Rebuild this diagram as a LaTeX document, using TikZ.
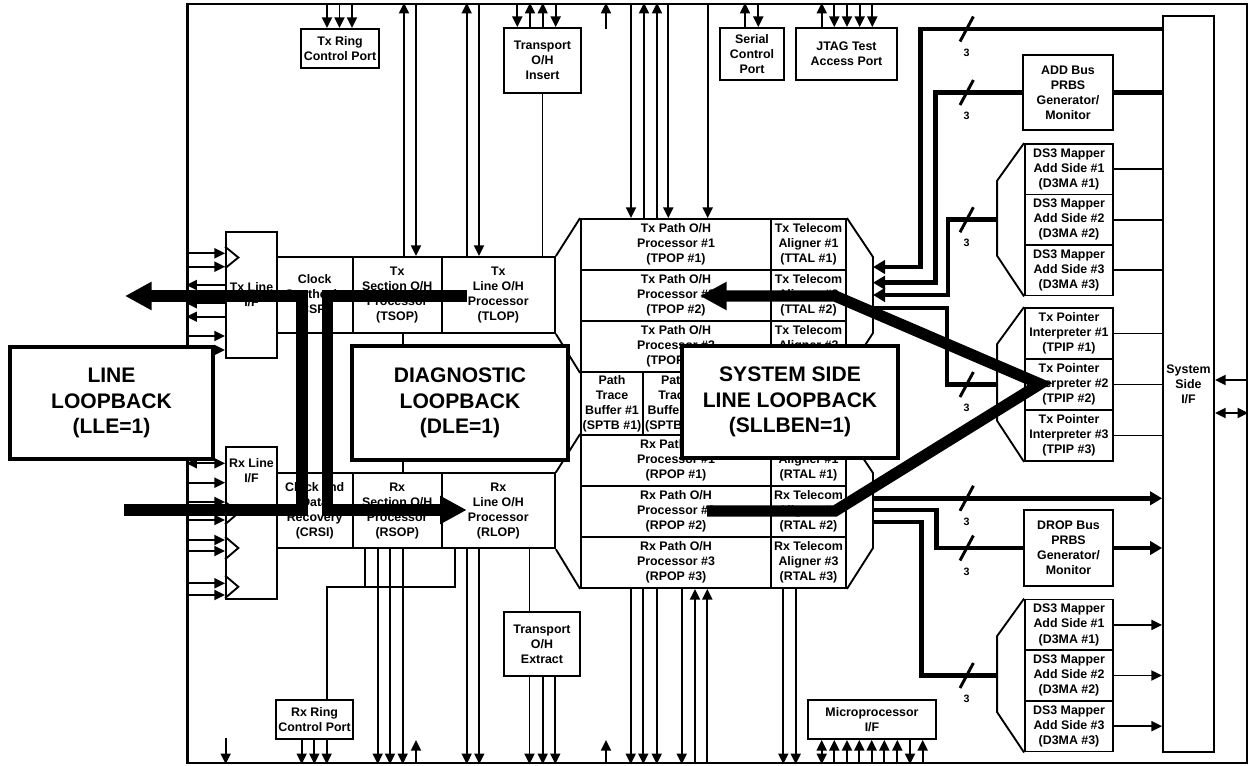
\documentclass[tikz,border=0pt]{standalone}
\usepackage{fontspec}
\setmainfont{Liberation Sans}
\usepackage{tikz}
\usetikzlibrary{positioning}
\usetikzlibrary{calc}
\usetikzlibrary{arrows.meta}

\tikzset{
    sz/.style 2 args={minimum width=#1*0.75pt, minimum height=#2*0.75pt},
    blk/.style={draw, line width=1.4pt, fill=white, align=center, inner sep=0pt,
        font=\fontsize{9.3}{11.3}\selectfont\bfseries},
    txt/.style={align=center, inner sep=0pt, font=\fontsize{9.3}{11.3}\selectfont\bfseries},
    lpbox/.style={draw, line width=3pt, fill=white, align=center, inner sep=0pt,
        font=\fontsize{15.8}{19}\selectfont\bfseries},
    ln/.style={line width=1.4pt},
    arr/.style={line width=1.4pt, -{Triangle[length=8pt,width=7.5pt]}},
    darr/.style={line width=1.4pt, {Triangle[length=8pt,width=7.5pt]}-{Triangle[length=8pt,width=7.5pt]}},
    bus/.style={line width=3.6pt},
    busarr/.style={line width=3.6pt, -{Triangle[length=9pt,width=10pt]}},
    lbarr/.style={line width=8.5pt, -{Triangle[length=20pt,width=20pt]}},
    slash/.style={line width=2.2pt},
    num/.style={inner sep=0pt, font=\fontsize{8}{9}\selectfont\bfseries}
}

\begin{document}
\begin{tikzpicture}[x=0.75pt, y=-0.75pt]
    \useasboundingbox (0,0) rectangle (1252,766);

    \node[draw, line width=1.8pt, inner sep=0pt, sz={1059.5}{759}] (frame) at (717.25,383.5) {};

    % ports on the top and bottom edge
    \node[blk, sz={78}{39}] (txring) at (340,48.5) {Tx Ring\\Control Port};
    \node[blk, sz={77}{65}] (tohins) at (542.5,60.5) {Transport\\O/H\\Insert};
    \node[blk, sz={64}{52}] (serial) at (752,54) {Serial\\Control\\Port};
    \node[blk, sz={101}{52}] (jtag) at (846.5,54) {JTAG Test\\Access Port};
    \node[blk, sz={77}{39}] (rxring) at (314.5,719.5) {Rx Ring\\Control Port};
    \node[blk, sz={76}{64}] (toext) at (542,644) {Transport\\O/H\\Extract};
    \node[blk, sz={128}{39}] (micro) at (872,719.5) {Microprocessor\\I/F};

    % line side
    \node[blk, sz={51}{126}] (txli) at (251.5,295) {Tx Line\\I/F};
    \node[blk, sz={51}{152}] (rxli) at (251.5,523) {};
    \node[txt, below=9pt of rxli.north] (rxlit) {Rx Line\\I/F};

    \node[blk, sz={76}{76}] (cspi) at (314.7,295) {Clock\\Synthesis\\(CSPI)};
    \node[blk, sz={89}{76}] (tsop) at (397.2,295) {Tx\\Section O/H\\Processor\\(TSOP)};
    \node[blk, sz={113.3}{76}] (tlop) at (498.3,295) {Tx\\Line O/H\\Processor\\(TLOP)};
    \node[blk, sz={76}{75}] (crsi) at (314.7,510.8) {Clock and\\Data\\Recovery\\(CRSI)};
    \node[blk, sz={89}{75}] (rsop) at (397.2,510.8) {Rx\\Section O/H\\Processor\\(RSOP)};
    \node[blk, sz={113.3}{75}] (rlop) at (498.3,510.8) {Rx\\Line O/H\\Processor\\(RLOP)};

    % path processors
    \foreach \i/\y in {1/244.5, 2/295.5, 3/346.5} {
        \node[blk, sz={190}{51}] (tpop\i) at (676,\y) {Tx Path O/H\\Processor \#\i\\(TPOP \#\i)};
        \node[blk, sz={75}{51}] (ttal\i) at (808.5,\y) {Tx Telecom\\Aligner \#\i\\(TTAL \#\i)};
    }
    \foreach \i/\y in {1/460.5, 2/511.5, 3/562.5} {
        \node[blk, sz={190}{51}] (rpop\i) at (676,\y) {Rx Path O/H\\Processor \#\i\\(RPOP \#\i)};
        \node[blk, sz={75}{51}] (rtal\i) at (808.5,\y) {Rx Telecom\\Aligner \#\i\\(RTAL \#\i)};
    }
    \node[blk, sz={62}{63}] (ptb1) at (612,403.5) {Path\\Trace\\Buffer \#1\\(SPTB \#1)};
    \node[blk, sz={63}{63}] (ptb2) at (674.5,403.5) {Path\\Trace\\Buffer \#2\\(SPTB \#2)};
    \node[blk, sz={65}{63}] (ptb3) at (738.5,403.5) {};
    \node[blk, sz={75}{63}] (ptb4) at (808.5,403.5) {};

    \coordinate (oRt) at (873,257);
    \coordinate (oRm1) at (873,333);
    \coordinate (oRm2) at (873,473);
    \coordinate (oRb) at (873,548);
    \draw[ln] (tpop1.north west) -- (tlop.north east) (tlop.south east) -- (tpop3.south west)
        (rpop1.north west) -- (rlop.north east) (rlop.south east) -- (rpop3.south west);
    \draw[ln] (ttal1.north east) -- (oRt) -- (oRm1) -- (ttal3.south east)
        (rtal1.north east) -- (oRm2) -- (oRb) -- (rtal3.south east);

    % system side
    \node[blk, sz={51}{736}] (sysif) at (1188.5,384) {System\\Side\\I/F};
    \node[blk, sz={90}{75}] (addprbs) at (1068,92.5) {ADD Bus\\PRBS\\Generator/\\Monitor};
    \node[blk, sz={89}{76}] (dropprbs) at (1068.5,548) {DROP Bus\\PRBS\\Generator/\\Monitor};
    \foreach \i/\y in {1/169.25, 2/219.75, 3/270.25}
        \node[blk, sz={88}{50.5}] (d3ma\i) at (1069,\y) {DS3 Mapper\\Add Side \#\i\\(D3MA \#\i)};
    \foreach \i/\y in {1/333.5, 2/384.5, 3/435.5}
        \node[blk, sz={88}{51}] (tpip\i) at (1069,\y) {Tx Pointer\\Interpreter \#\i\\(TPIP \#\i)};
    \foreach \i/\y in {1/624.9, 2/675.5, 3/726.2}
        \node[blk, sz={88}{50.7}] (d3mb\i) at (1069,\y) {DS3 Mapper\\Add Side \#\i\\(D3MA \#\i)};

    \draw[ln] (d3ma1.north west) -- ++(-27,37.7) -- ++(0,75) -- (d3ma3.south west);
    \draw[ln] (tpip1.north west) -- ++(-27,37) -- ++(0,76.7) -- (tpip3.south west);
    \draw[ln] (d3mb1.north west) -- ++(-27,37.5) -- ++(0,76) -- (d3mb3.south west);
    \coordinate (fanA) at ($(d3ma2.west)+(-27,0)$);
    \coordinate (fanB) at ($(tpip2.west)+(-27,0)$);
    \coordinate (fanC) at ($(d3mb2.west)+(-27,0)$);

    \foreach \i in {1,2,3} {
        \draw[ln] (d3ma\i.east) -- (sysif.west |- d3ma\i.east);
        \draw[ln] (tpip\i.east) -- (sysif.west |- tpip\i.east);
        \draw[arr] (d3mb\i.east) -- (sysif.west |- d3mb\i.east);
    }
    \draw[arr] (frame.east |- 0,380) -- (sysif.east |- 0,380);
    \draw[darr] (sysif.east |- 0,413) -- (frame.east |- 0,413);

    % buses
    \draw[busarr] (sysif.west |- 0,29) -- ++(-241.3,0) |- (oRt |- 0,267);
    \draw[busarr] (addprbs.west) -- ++(-86.3,0) |- (oRt |- 0,282.7);
    \draw[bus] (addprbs.east) -- (sysif.west |- addprbs.east);
    \draw[busarr] (fanA) -- ++(-49,0) |- (oRt |- 0,295);
    \draw[bus] (fanB) -- ++(-50,0) |- (oRm1 |- 0,308);
    \draw[busarr] (oRm2 |- 0,498.3) -- (sysif.west |- 0,498.3);
    \draw[bus] (oRm2 |- 0,510) -- ++(63.7,0) |- (dropprbs.west);
    \draw[busarr] (dropprbs.east) -- (sysif.west |- dropprbs.east);
    \draw[bus] (oRm2 |- 0,522) -- ++(48.7,0) |- (fanC);
    \foreach \y/\n in {29/a, 92.5/b, 219.75/c, 384.5/d, 498.3/e, 548/f, 675.5/g} {
        \draw[slash] (966.7,\y) ++(-6.7,12.5) -- ++(13.4,-25);
        \node[num] (three\n) at (966.7,{\y+23.5}) {3};
    }

    % top edge
    \foreach \x in {327,339.5,352}
        \draw[arr] (\x,0 |- frame.north) -- (\x,0 |- txring.north);
    \draw[arr] (404,0 |- tsop.north) -- (404,0 |- frame.north);
    \draw[arr] (416,0 |- frame.north) -- (416,0 |- tsop.north);
    \draw[arr] (466.7,0 |- tlop.north) -- (466.7,0 |- frame.north);
    \draw[arr] (479,0 |- frame.north) -- (479,0 |- tlop.north);
    \draw[ln] (tohins.south) -- (tohins.south |- tlop.north);
    \foreach \x in {517.3,555.7}
        \draw[arr] (\x,0 |- frame.north) -- (\x,0 |- tohins.north);
    \foreach \x in {530,542.7}
        \draw[arr] (\x,0 |- tohins.north) -- (\x,0 |- frame.north);
    \coordinate (stubT) at (606,29);
    \draw[arr] (stubT) -- (stubT |- frame.north);
    \foreach \x in {631,668.3,707.7}
        \draw[arr] (\x,0 |- frame.north) -- (\x,0 |- tpop1.north);
    \foreach \x in {644,657}
        \draw[arr] (\x,0 |- tpop1.north) -- (\x,0 |- frame.north);
    \draw[arr] (745,0 |- serial.north) -- (745,0 |- frame.north);
    \draw[arr] (758.3,0 |- frame.north) -- (758.3,0 |- serial.north);
    \draw[arr] (821.7,0 |- jtag.north) -- (821.7,0 |- frame.north);
    \foreach \x in {834.3,847,859.7,872.3}
        \draw[arr] (\x,0 |- frame.north) -- (\x,0 |- jtag.north);

    % bottom edge
    \coordinate (stubB1) at (225.7,738);
    \draw[arr] (stubB1) -- (stubB1 |- frame.south);
    \foreach \x in {301.7,314.3,326.7}
        \draw[arr] (\x,0 |- rxring.south) -- (\x,0 |- frame.south);
    \coordinate (rxjoin) at (455,586.7);
    \draw[ln] (326.7,0 |- rxring.north) |- (rxjoin) -- (rxjoin |- rlop.south);
    \draw[ln] (365,0 |- rsop.south) -- (365,0 |- rxjoin);
    \draw[ln] (403,0 |- tsop.south) -- (403,0 |- rsop.north);
    \foreach \x in {377.7,390,402.7}
        \draw[arr] (\x,0 |- rsop.south) -- (\x,0 |- frame.south);
    \coordinate (stubB2) at (416,740);
    \draw[arr] (stubB2 |- frame.south) -- (stubB2);
    \foreach \x in {466.7,479.3}
        \draw[arr] (\x,0 |- rlop.south) -- (\x,0 |- frame.south);
    \draw[ln] (529.5,0 |- rlop.south) -- (529.5,0 |- toext.north);
    \foreach \x in {529.5,542.7,555.3}
        \draw[arr] (\x,0 |- toext.south) -- (\x,0 |- frame.south);
    \coordinate (stubB3) at (606,740);
    \draw[arr] (stubB3 |- frame.south) -- (stubB3);
    \foreach \x in {630.7,643.3,656.7,681.7}
        \draw[arr] (\x,0 |- rpop3.south) -- (\x,0 |- frame.south);
    \foreach \x in {695,707.3}
        \draw[arr] (\x,0 |- frame.south) -- (\x,0 |- rpop3.south);
    \foreach \x in {783.3,795.7}
        \draw[arr] (\x,0 |- rtal3.south) -- (\x,0 |- frame.south);
    \draw[darr] (821.7,0 |- micro.south) -- (821.7,0 |- frame.south);
    \foreach \x in {834.3,847,859.3,871.7,884.3,897.3,922.7}
        \draw[arr] (\x,0 |- frame.south) -- (\x,0 |- micro.south);
    \draw[arr] (910,0 |- micro.south) -- (910,0 |- frame.south);

    % left edge
    \foreach \y in {253.3,266.7,336,350}
        \draw[arr] (frame.west |- 0,\y) -- (txli.west |- 0,\y);
    \foreach \y in {285,303.3,316.7}
        \draw[arr] (txli.west |- 0,\y) -- (frame.west |- 0,\y);
    \draw[ln] (txli.west |- 0,246.7) -- ++(13.3,10.8) -- ++(-13.3,10.8);
    \draw[darr] (frame.west |- 0,463.3) -- (rxli.west |- 0,463.3);
    \foreach \y in {482.7,502,520,540,551,583.3,595}
        \draw[arr] (frame.west |- 0,\y) -- (rxli.west |- 0,\y);
    \foreach \t in {501.7,536.7,575.5}
        \draw[ln] (rxli.west |- 0,\t) -- ++(13.3,11.3) -- ++(-13.3,11.3);

    % loopbacks
    \coordinate (llbin) at (124,510);
    \coordinate (llbturn) at (302,296);
    \coordinate (llbout) at (125,296);
    \draw[lbarr] (llbin) -| (llbturn) -- (llbout);
    \coordinate (dlbin) at (466.7,296);
    \coordinate (dlbturn) at (327.5,510);
    \coordinate (dlbout) at (466.7,510);
    \draw[lbarr] (dlbin) -| (dlbturn) -- (dlbout);
    \coordinate (sllin) at (707,511);
    \coordinate (sllapex) at (1040,384);
    \coordinate (sllout) at (700,296);
    \draw[lbarr] (sllin) -- ++(128,0) -- (sllapex) -- ++(-205,-88) -- (sllout);

    \node[lpbox, sz={203}{112}] (lle) at (111.5,403) {LINE\\LOOPBACK\\(LLE=1)};
    \node[lpbox, sz={216}{114}] (dle) at (460,403) {DIAGNOSTIC\\LOOPBACK\\(DLE=1)};
    \node[lpbox, sz={216}{112}] (sll) at (790,402) {SYSTEM SIDE\\LINE LOOPBACK\\(SLLBEN=1)};
\end{tikzpicture}
\end{document}
